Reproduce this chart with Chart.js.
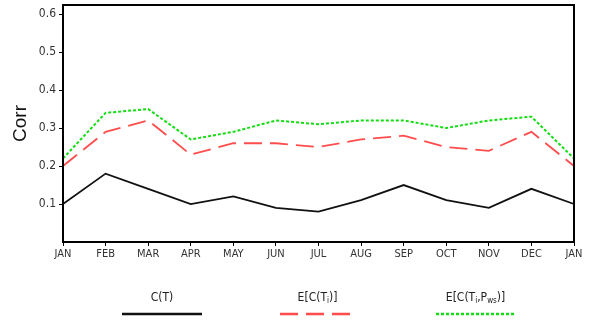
<!DOCTYPE html>
<html>
<head>
<meta charset="utf-8">
<script src="https://cdn.jsdelivr.net/npm/chart.js@4/dist/chart.umd.min.js"></script>
<style>
  html, body { margin: 0; padding: 0; background: #fff; }
  #wrap { width: 590px; height: 324px; }
</style>
</head>
<body>
<div id="wrap"><canvas id="myChart" width="590" height="324"></canvas></div>
<script>
"use strict"
// monthly correlation, JAN..DEC and back to JAN
const months = ['JAN', 'FEB', 'MAR', 'APR', 'MAY', 'JUN', 'JUL', 'AUG', 'SEP', 'OCT', 'NOV', 'DEC', 'JAN']
const corrT = [0.10, 0.18, 0.14, 0.10, 0.12, 0.09, 0.08, 0.11, 0.15, 0.11, 0.09, 0.14, 0.10]
const corrTi = [0.20, 0.29, 0.32, 0.23, 0.26, 0.26, 0.25, 0.27, 0.28, 0.25, 0.24, 0.29, 0.20]
const corrTiPws = [0.22, 0.34, 0.35, 0.27, 0.29, 0.32, 0.31, 0.32, 0.32, 0.30, 0.32, 0.33, 0.22]
const yTicks = [0.1, 0.2, 0.3, 0.4, 0.5, 0.6]

const tickFont = "'Liberation Sans Narrow', 'DejaVu Sans Condensed', Arial, sans-serif"

// box around the plot (top + right sides too)
const frame = {
    id: 'frame',
    afterDraw(chart) {
        const { ctx, chartArea: a } = chart
        ctx.save()
        ctx.strokeStyle = '#000'
        ctx.lineWidth = 2
        ctx.strokeRect(a.left, a.top, a.right - a.left, a.bottom - a.top)
        ctx.restore()
    }
}

// legend under the plot: label on top, line sample below
const bottomLegend = {
    id: 'bottomLegend',
    afterDraw(chart) {
        const ctx = chart.ctx
        const items = [
            { x1: 122, x2: 202, parts: [['C(T)', 0]] },
            { x1: 280, x2: 355, parts: [['E[C(T', 0], ['i', 1], [')]', 0]] },
            { x1: 436, x2: 515, parts: [['E[C(T', 0], ['i', 1], [',P', 0], ['ws', 1], [')]', 0]] },
        ]
        ctx.save()
        items.forEach((it, i) => {
            const ds = chart.data.datasets[i]
            // measure text
            let w = 0
            it.parts.forEach(([t, sub]) => {
                ctx.font = (sub ? '8px ' : '12px ') + tickFont
                w += ctx.measureText(t).width
            })
            let x = (it.x1 + it.x2) / 2 - w / 2
            ctx.fillStyle = '#222'
            ctx.textBaseline = 'alphabetic'
            it.parts.forEach(([t, sub]) => {
                ctx.font = (sub ? '8px ' : '12px ') + tickFont
                ctx.fillText(t, x, sub ? 303 : 301)
                x += ctx.measureText(t).width
            })
            ctx.strokeStyle = ds.borderColor
            ctx.lineWidth = 2.5
            ctx.setLineDash(ds.borderDash || [])
            ctx.beginPath()
            ctx.moveTo(it.x1, 314)
            ctx.lineTo(it.x2, 314)
            ctx.stroke()
        })
        ctx.restore()
    }
}

const ctx = document.getElementById('myChart').getContext('2d')
const chart = new Chart(ctx, {
    type: 'line',
    data: {
        labels: months,
        datasets: [
            { label: 'C(T)', data: corrT, borderColor: '#111', borderWidth: 1.8, pointRadius: 0, tension: 0 },
            { label: 'E[C(Ti)]', data: corrTi, borderColor: '#ff4d4d', borderWidth: 1.8, borderDash: [18, 8], pointRadius: 0, tension: 0 },
            { label: 'E[C(Ti,Pws)]', data: corrTiPws, borderColor: '#11dd11', borderWidth: 2, borderDash: [3, 2], pointRadius: 0, tension: 0 },
        ]
    },
    options: {
        responsive: false,
        animation: false,
        layout: { padding: { top: 5, right: 16, left: 0, bottom: 0 } },
        plugins: {
            legend: { display: false },
            tooltip: { enabled: false }
        },
        scales: {
            x: {
                offset: false,
                grid: { drawOnChartArea: false, drawTicks: true, tickLength: 4, color: '#000', lineWidth: 1 },
                border: { color: '#000', width: 2 },
                ticks: { color: '#333', font: { family: tickFont, size: 11 }, padding: 2, maxRotation: 0, autoSkip: false },
                afterFit(scale) { scale.height = 82 }
            },
            y: {
                min: 0,
                max: 0.624,
                grid: { drawOnChartArea: false, drawTicks: true, tickLength: 4, color: '#000', lineWidth: 1 },
                border: { color: '#000', width: 2 },
                afterBuildTicks(scale) { scale.ticks = yTicks.map(v => ({ value: v })) },
                ticks: { color: '#333', font: { family: tickFont, size: 12 }, padding: 3, callback: v => v.toFixed(1) },
                title: { display: true, text: 'Corr', color: '#111', font: { family: 'Arial, Liberation Sans, sans-serif', size: 19 }, padding: { top: 9, bottom: 8 } },
                afterFit(scale) {
                    scale.width = 63
                    scale.paddingTop = 0
                    scale.paddingBottom = 0
                }
            }
        }
    },
    plugins: [frame, bottomLegend]
})
</script>
</body>
</html>
